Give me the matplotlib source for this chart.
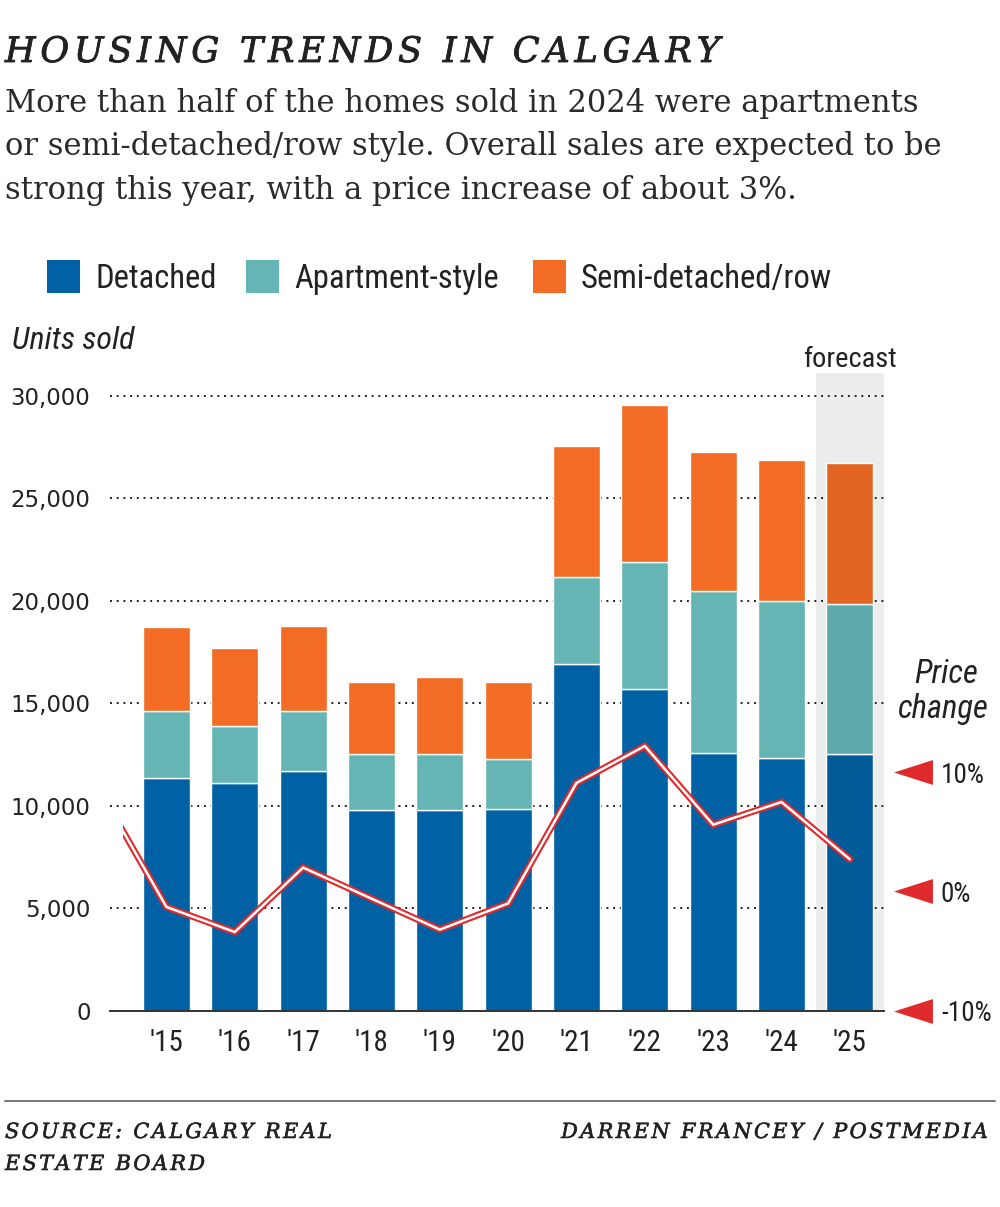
import matplotlib
matplotlib.use('Agg')
import matplotlib.pyplot as plt
import matplotlib.patheffects as pe
from matplotlib.font_manager import FontProperties
from matplotlib.patches import Rectangle
from matplotlib.path import Path
from matplotlib.lines import Line2D
from matplotlib.ticker import StrMethodFormatter

# units sold by type (CREB), '25 is a forecast
years = ["'15", "'16", "'17", "'18", "'19", "'20", "'21", "'22", "'23", "'24", "'25"]
detached = [11350, 11110, 11680, 9780, 9790, 9840, 16900, 15680, 12590, 12310, 12520]
apartment = [3280, 2790, 2940, 2740, 2730, 2420, 4270, 6190, 7900, 7660, 7320]
semi_row = [4070, 3790, 4150, 3510, 3740, 3770, 6380, 7690, 6760, 6880, 6860]

# annual price change, %; the line starts from the 2014 figure
price_years = [2014, 2015, 2016, 2017, 2018, 2019, 2020, 2021, 2022, 2023, 2024, 2025]
price_change = [8.7, -1.3, -3.4, 2.0, -0.6, -3.2, -1.0, 9.1, 12.2, 5.6, 7.5, 2.7]
price_ticks = [-10, 0, 10]
price_labels = ['-10%', '0%', '10%']

legend_names = ['Detached', 'Apartment-style', 'Semi-detached/row']

SERIF = ['DejaVu Serif']
COND = ['Roboto Condensed', 'DejaVu Sans']
SANS = ['DejaVu Sans']

BLUE, TEAL, ORANGE = '#0061a5', '#66b5b5', '#f26c25'
BLUE_F, TEAL_F, ORANGE_F = '#015b98', '#5eaaab', '#e26622'
RED = '#e0292b'
INK = '#222222'

W, H = 1000, 1207


def fx(px):
    return px / W


def fy(py):
    return 1 - py / H


def tracked(fig, x, y, s, fp, track=None, width=None, ha='left', color=INK, stroke=0):
    # draw text letter by letter to get the wide letter spacing
    r = fig.canvas.get_renderer()
    w0 = r.get_text_width_height_descent('||', fp, ismath=False)[0]
    advs = [r.get_text_width_height_descent('|' + c + '|', fp, ismath=False)[0] - w0 for c in s]
    if track is None:
        track = (width - sum(advs)) / (len(s) - 1)
    total = sum(advs) + track * (len(s) - 1)
    pos = x if ha == 'left' else x - total
    effects = [pe.withStroke(linewidth=stroke, foreground=color)] if stroke else None
    for c, a in zip(s, advs):
        if c != ' ':
            fig.text(fx(pos), fy(y), c, ha='left', va='baseline', fontproperties=fp, color=color,
                     path_effects=effects)
        pos += a + track
    return track


def main():
    fig = plt.figure(figsize=(10, 12.07), dpi=100)

    # title, subtitle
    title_fp = FontProperties(family=SERIF, style='italic', size=25.3)
    tracked(fig, 5, 62, 'HOUSING TRENDS IN CALGARY', title_fp, width=715, stroke=0.6)
    sub = ['More than half of the homes sold in 2024 were apartments',
           'or semi-detached/row style. Overall sales are expected to be',
           'strong this year, with a price increase of about 3%.']
    for line, yb in zip(sub, [112, 155.5, 199]):
        fig.text(fx(5), fy(yb), line, family=SERIF, size=22, color='#2a2a2a', va='baseline')

    # legend
    for name, col, x0 in zip(legend_names, [BLUE, TEAL, ORANGE], [47, 246, 533]):
        fig.patches.append(Rectangle((fx(x0), fy(293)), 33 / W, 33 / H, transform=fig.transFigure,
                                     facecolor=col, edgecolor='none'))
        fig.text(fx(x0 + 48), fy(288), name, family=COND, size=23.5, color=INK, va='baseline')

    fig.text(fx(12), fy(349), 'Units sold', family=COND, style='italic', size=23, color=INK, va='baseline')

    # main axes
    ax = fig.add_axes([0.110, fy(1010.7), 0.774, (1010.7 - 373) / H])
    x = list(range(len(years)))
    ax.axvspan(9.5, 10.5, color='#eceeed', zorder=0, lw=0)
    bottoms2 = [a + b for a, b in zip(detached, apartment)]
    kw = dict(width=0.69, edgecolor='white', linewidth=1.0, zorder=2)
    ax.bar(x, detached, color=[BLUE] * 10 + [BLUE_F], **kw)
    ax.bar(x, apartment, bottom=detached, color=[TEAL] * 10 + [TEAL_F], **kw)
    ax.bar(x, semi_row, bottom=bottoms2, color=[ORANGE] * 10 + [ORANGE_F], **kw)

    ax.set_xlim(-0.826, 10.5)
    ax.set_ylim(0, 31100)
    ax.set_yticks([0, 5000, 10000, 15000, 20000, 25000, 30000])
    ax.yaxis.set_major_formatter(StrMethodFormatter('{x:,.0f}'))
    ax.set_xticks(x, years)
    ax.grid(axis='y', color=INK, linestyle=(0, (1, 2.45)), linewidth=1.4)
    ax.set_axisbelow(True)
    for s in ['top', 'right', 'left']:
        ax.spines[s].set_visible(False)
    ax.spines['bottom'].set_color('#333333')
    ax.spines['bottom'].set_linewidth(1.4)
    ax.spines['bottom'].set_zorder(3)
    ax.tick_params(axis='y', length=0, pad=14, labelsize=16.5, labelcolor=INK)
    ax.tick_params(axis='x', length=0, pad=13, labelcolor=INK)
    for t in ax.get_yticklabels():
        t.set_family(SANS)
    for t in ax.get_xticklabels():
        t.set_family(COND)
        t.set_size(21)

    ax.text(10, 1.0, 'forecast', transform=ax.get_xaxis_transform(), ha='center', va='bottom',
            family=COND, size=20.5, color=INK)

    # price change on a second scale
    ax2 = ax.twinx()
    ax2.set_ylim(-10, 43.48)
    ax2.set_yticks(price_ticks, price_labels)
    ax2.tick_params(axis='y', length=0, pad=41, labelsize=19.5, labelcolor=INK)
    for t in ax2.get_yticklabels():
        t.set_family(COND)
    for s in ax2.spines.values():
        s.set_visible(False)

    px = [yr - 2015 for yr in price_years]
    clip = Rectangle((-0.636, -100), 20, 300, transform=ax2.transData)
    red, = ax2.plot(px, price_change, color=RED, lw=4.8, solid_joinstyle='miter', solid_capstyle='round')
    white, = ax2.plot(px, price_change, color='white', lw=1.8, solid_joinstyle='miter', solid_capstyle='round')
    red.set_clip_path(clip)
    white.set_clip_path(clip)

    tri = Path([(-1, 0), (1, 0.64), (1, -0.64), (-1, 0)])
    ax2.plot([1.038] * 3, price_ticks, transform=ax2.get_yaxis_transform(), ls='none',
             marker=tri, ms=28, color=RED, mec='none', clip_on=False)

    fig.text(fx(946), fy(683), 'Price', family=COND, style='italic', size=23.5, color=INK,
             ha='center', va='baseline')
    fig.text(fx(943), fy(718), 'change', family=COND, style='italic', size=23.5, color=INK,
             ha='center', va='baseline')

    # footer
    fig.lines.append(Line2D([fx(5), fx(995)], [fy(1101), fy(1101)], transform=fig.transFigure,
                            color='#555555', lw=1.1))
    foot_fp = FontProperties(family=SERIF, style='italic', size=15)
    tr = tracked(fig, 5, 1138, 'SOURCE: CALGARY REAL', foot_fp, width=327, stroke=0.4)
    tracked(fig, 5, 1170, 'ESTATE BOARD', foot_fp, track=tr, stroke=0.4)
    tracked(fig, 988, 1138, 'DARREN FRANCEY / POSTMEDIA', foot_fp, track=tr, ha='right', stroke=0.4)

    fig.savefig('out.png', dpi=100)


if __name__ == '__main__':
    main()
